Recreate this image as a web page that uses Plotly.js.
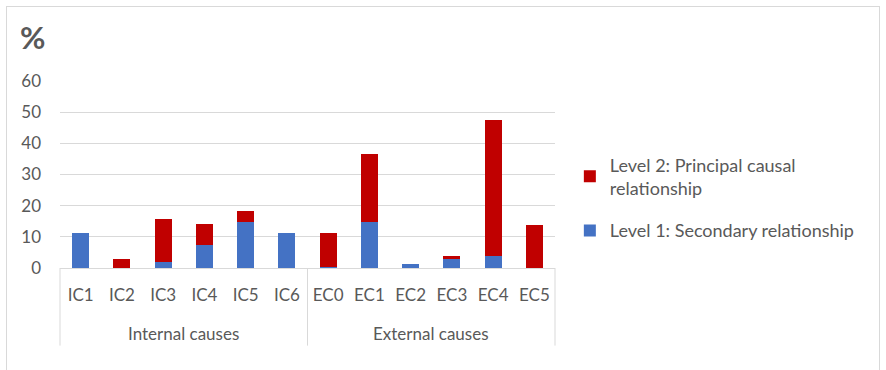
<!DOCTYPE html>
<html>
<head>
<meta charset="utf-8">
<script src="https://cdn.plot.ly/plotly-3.0.1.min.js"></script>
<style>
html,body{margin:0;padding:0;background:#fff;}
#frame{position:absolute;left:6px;top:6px;width:874px;height:372px;border:1px solid #d9d9d9;box-sizing:border-box;}
#chart{position:absolute;left:0;top:0;width:886px;height:370px;}
</style>
</head>
<body>
<div id="frame"></div>
<div id="chart"></div>
<script>
var groupNames = ["Internal causes", "External causes"];
var categories = ["IC1","IC2","IC3","IC4","IC5","IC6","EC0","EC1","EC2","EC3","EC4","EC5"];
var level1 = [11.3, 0, 2.0, 7.5, 14.9, 11.3, 0.2, 14.9, 1.2, 3.0, 4.0, 0];
var level2 = [0, 3.0, 13.8, 6.7, 3.5, 0, 11.1, 21.8, 0, 1.0, 43.6, 13.9];
var seriesNames = ["Level 1: Secondary relationship", "Level 2: Principal causal<br>relationship"];
var yTicks = [0, 10, 20, 30, 40, 50, 60];

var font = {family: "Lato, 'Open Sans', sans-serif", size: 17, color: "#595959"};
var legendFont = {family: "Lato, 'Open Sans', sans-serif", size: 18, color: "#595959"};
var gray = "#d9d9d9";

var traces = [
  {type:"bar", name: seriesNames[0], legendgroup: "l1", legendrank: 2, x: categories, y: level1, marker:{color:"#4472C4"}},
  {type:"bar", name: seriesNames[1], legendgroup: "l2", legendrank: 1, x: categories, y: level2, marker:{color:"#C00000"}}
];

var annotations = [{text: "<b>%</b>", xref: "paper", yref: "paper", x: -0.085, y: 1.235,
                 xanchor: "left", yanchor: "middle", showarrow: false,
                 font: {family: "Lato, sans-serif", size: 31, color: "#595959"}}];
var shapes = [];
for (var g = 0; g < groupNames.length; g++) {
  annotations.push({text: groupNames[g], xref: "paper", yref: "paper",
    x: (g + 0.5) / groupNames.length, y: -0.35, xanchor: "center", yanchor: "middle",
    showarrow: false, font: font});
}
for (var d = 0; d <= groupNames.length; d++) {
  shapes.push({type: "line", xref: "paper", yref: "paper", x0: d / groupNames.length,
    x1: d / groupNames.length, y0: 0, y1: -0.415, line: {color: gray, width: 1}});
}

var layout = {
  width: 886, height: 370,
  margin: {l: 60, r: 331, t: 81, b: 102},
  paper_bgcolor: "rgba(0,0,0,0)",
  plot_bgcolor: "rgba(0,0,0,0)",
  barmode: "stack",
  bargap: 0.59,
  font: font,
  showlegend: true,
  legend: {x: 1.03, y: 0.65, xanchor: "left", yanchor: "top", traceorder: "grouped",
           font: legendFont, itemwidth: 30, tracegroupgap: 16},
  annotations: annotations,
  shapes: shapes,
  xaxis: {type: "category", showline: true, linecolor: gray, linewidth: 1,
          tickfont: font, ticks: "", showgrid: false, ticklabelstandoff: 12},
  yaxis: {range: [0, 60], tickvals: yTicks, showgrid: true, gridcolor: gray, gridwidth: 1,
          zeroline: false, showline: false, tickfont: font, ticks: "", ticklabelstandoff: 18}
};

Plotly.newPlot("chart", traces, layout, {displayModeBar: false, staticPlot: true});
</script>
</body>
</html>
